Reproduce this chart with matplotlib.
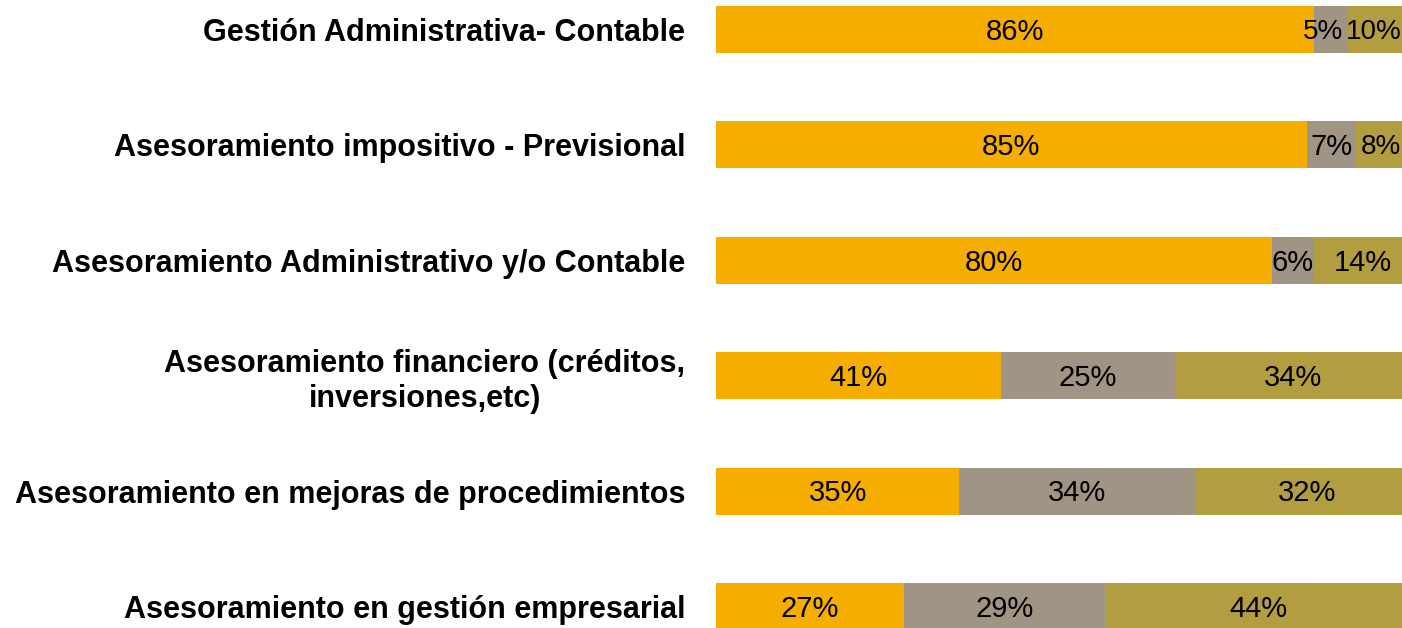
import numpy as np
import matplotlib
matplotlib.use("Agg")
import matplotlib.pyplot as plt

categories = [
    "Gestión Administrativa- Contable",
    "Asesoramiento impositivo - Previsional",
    "Asesoramiento Administrativo y/o Contable",
    "Asesoramiento financiero (créditos,\ninversiones,etc)",
    "Asesoramiento en mejoras de procedimientos",
    "Asesoramiento en gestión empresarial",
]
serie_a = [86, 85, 80, 41, 35, 27]
serie_b = [5, 7, 6, 25, 34, 29]
serie_c = [10, 8, 14, 34, 32, 44]

colors = ["#F5AE00", "#A09484", "#B29E40"]

plt.rcParams["font.family"] = ["Liberation Sans", "DejaVu Sans"]

fig = plt.figure(figsize=(14.02, 6.28), dpi=100)
# axes run slightly past the right edge of the figure
ax = fig.add_axes([716 / 1402, 0.0, 695 / 1402, 1.0])

y = np.arange(len(categories))
left = np.zeros(len(categories))
for vals, col in zip([serie_a, serie_b, serie_c], colors):
    vals = np.array(vals, dtype=float)
    bars = ax.barh(y, vals, left=left, height=0.407, color=col, edgecolor="none")
    for b, v in zip(bars, vals):
        x0, w = b.get_x(), b.get_width()
        xc, ha, fs = x0 + w / 2, "center", 21
        if w < 6:
            # very narrow segment: push label against its right edge
            xc, ha, fs = x0 + w - 0.7, "right", 20
        elif x0 + w > 99 and w < 12:
            # small end segment: keep the label inside the visible area
            xc, ha, fs = 98.6, "right", 20
        ax.text(xc, b.get_y() + b.get_height() / 2 + 0.02,
                f"{v:.0f}%", ha=ha, va="center", fontsize=fs, color="black")
    left += vals

ax.set_xlim(0, 100)
ax.set_ylim(5.186, -0.2556)
ax.set_yticks(y)
ax.set_yticklabels(categories, fontsize=22, fontweight="bold")
for lbl in ax.get_yticklabels():
    lbl.set_multialignment("center")
ax.tick_params(axis="y", length=0, pad=22)
ax.set_xticks([])
for s in ax.spines.values():
    s.set_visible(False)

fig.savefig("out.png", dpi=100)
